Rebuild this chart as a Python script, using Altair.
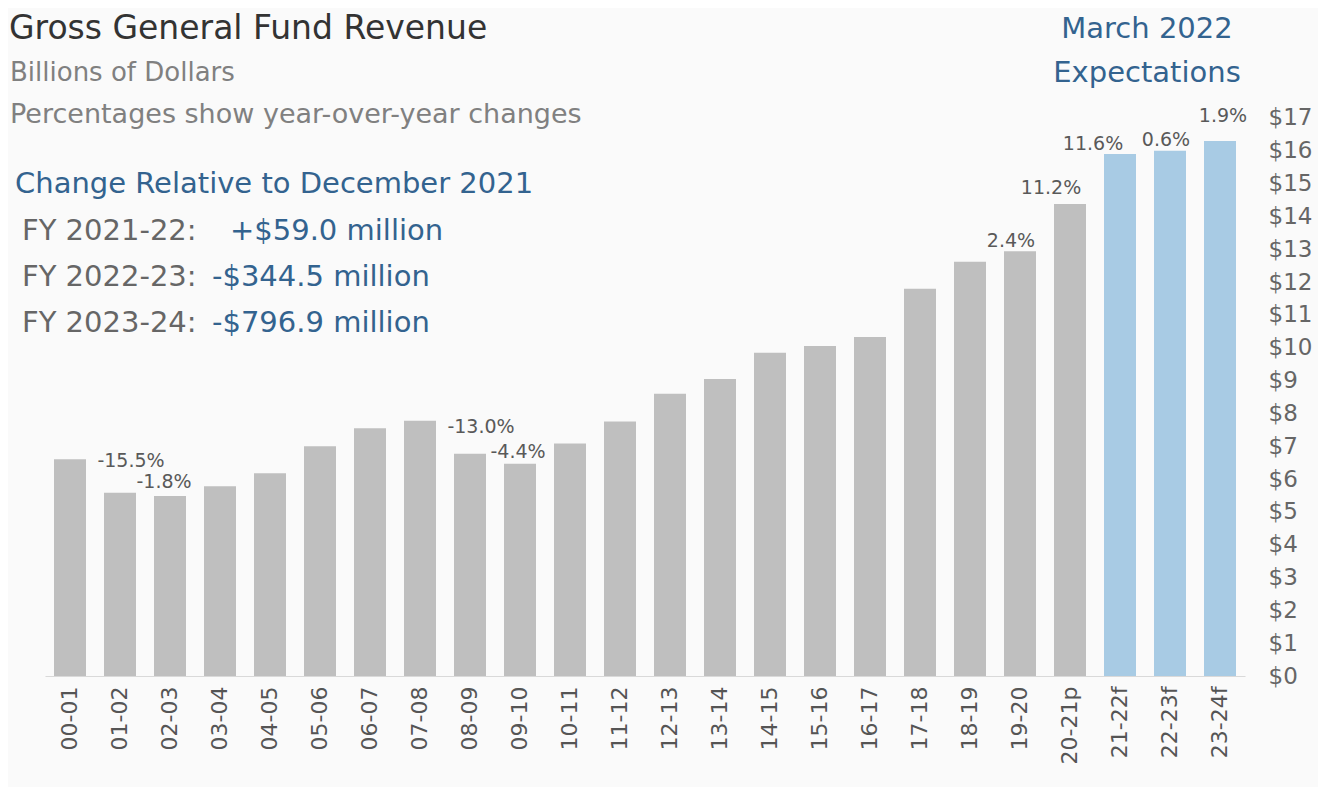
import altair as alt
import pandas as pd

# ---------------- data ----------------
years = ["00-01", "01-02", "02-03", "03-04", "04-05", "05-06", "06-07", "07-08",
         "08-09", "09-10", "10-11", "11-12", "12-13", "13-14", "14-15", "15-16",
         "16-17", "17-18", "18-19", "19-20", "20-21p", "21-22f", "22-23f", "23-24f"]
revenue = [6.60, 5.58, 5.48, 5.78, 6.18, 7.00, 7.55, 7.78,
           6.77, 6.47, 7.08, 7.75, 8.60, 9.05, 9.85, 10.05,
           10.33, 11.80, 12.62, 12.94, 14.38, 15.90, 16.00, 16.30]
kinds = ["Actual"] * 21 + ["Forecast"] * 3

pct_years = ["01-02", "02-03", "08-09", "09-10", "19-20", "20-21p", "21-22f", "22-23f", "23-24f"]
pct_labels = ["-15.5%", "-1.8%", "-13.0%", "-4.4%", "2.4%", "11.2%", "11.6%", "0.6%", "1.9%"]

y_ticks = list(range(0, 18))

df = pd.DataFrame({"year": years, "revenue": revenue, "kind": kinds})
pct_df = pd.DataFrame({
    "year": pct_years,
    "label": pct_labels,
    "revenue": [revenue[years.index(y)] for y in pct_years],
})

# ---------------- style ----------------
FONT = "DejaVu Sans"
GRAY_BAR = "#bfbfbf"
BLUE_BAR = "#a8cbe4"
BLUE_TXT = "#33638f"
label_offsets = {  # (dx, dy) label nudges
    "-15.5%": (11, -32), "-1.8%": (-6, -14), "-13.0%": (11, -27), "-4.4%": (-2, -12),
    "2.4%": (-9, -10), "11.2%": (-19, -16), "11.6%": (-27, -10), "0.6%": (-4, -11),
    "1.9%": (3, -25),
}

x_axis = alt.Axis(labelAngle=-90, labelFontSize=22, labelColor="#555555",
                  labelFont=FONT, labelPadding=10, ticks=False,
                  domainColor="#d9d9d9", domainWidth=1, grid=False)
y_axis = alt.Axis(orient="right", values=y_ticks, labelExpr="'$' + datum.value",
                  labelFontSize=23, labelColor="#666666", labelFont=FONT,
                  labelAlign="left", labelPadding=23, ticks=False,
                  labelOverlap=False, labelBound=False,
                  domain=False, grid=False)

x_enc = alt.X("year:N", sort=years, title=None,
              scale=alt.Scale(paddingInner=0.36, paddingOuter=0.18), axis=x_axis)
y_enc = alt.Y("revenue:Q", title=None,
              scale=alt.Scale(domain=[0, 20.29], nice=False, zero=True), axis=y_axis)

bars = alt.Chart(df).mark_bar().encode(
    x=x_enc, y=y_enc,
    color=alt.Color("kind:N", scale=alt.Scale(domain=["Actual", "Forecast"],
                                             range=[GRAY_BAR, BLUE_BAR]), legend=None),
)

layers = [bars]
for lab in pct_labels:
    dx, dy = label_offsets[lab]
    layers.append(
        alt.Chart(pct_df).transform_filter(alt.datum.label == lab)
        .mark_text(dx=dx, dy=dy, fontSize=19, font=FONT, color="#595959", baseline="middle")
        .encode(x=x_enc, y=y_enc, text="label:N")
    )


def note(txt, x, y, size, color, align="left"):
    return alt.Chart(pd.DataFrame({"t": [txt]})).mark_text(
        align=align, baseline="alphabetic", fontSize=size, font=FONT, color=color
    ).encode(x=alt.value(x), y=alt.value(y), text="t:N")


layers += [
    note("Gross General Fund Revenue", -36, 29, 33, "#333333"),
    note("Billions of Dollars", -35, 71, 26, "#808080"),
    note("Percentages show year-over-year changes", -35, 113, 27, "#808080"),
    note("Change Relative to December 2021", -30, 183, 29, BLUE_TXT),
    note("FY 2021-22:", -23, 230, 29, "#666666"),
    note("+$59.0 million", 185, 230, 29, BLUE_TXT),
    note("FY 2022-23:", -23, 276, 29, "#666666"),
    note("-$344.5 million", 167, 276, 29, BLUE_TXT),
    note("FY 2023-24:", -23, 322, 29, "#666666"),
    note("-$796.9 million", 167, 322, 29, BLUE_TXT),
    note("March 2022", 1102, 28, 29, BLUE_TXT, align="center"),
    note("Expectations", 1102, 72, 29, BLUE_TXT, align="center"),
]

chart = alt.layer(*layers).properties(
    width=1200, height=666,
    background="#fafafa",
    padding={"left": 37, "top": 2, "right": 73, "bottom": 111},
    autosize=alt.AutoSizeParams(type="none"),
).configure_view(stroke=None)

chart.save("out.html", embed_options={"renderer": "svg", "actions": False})
